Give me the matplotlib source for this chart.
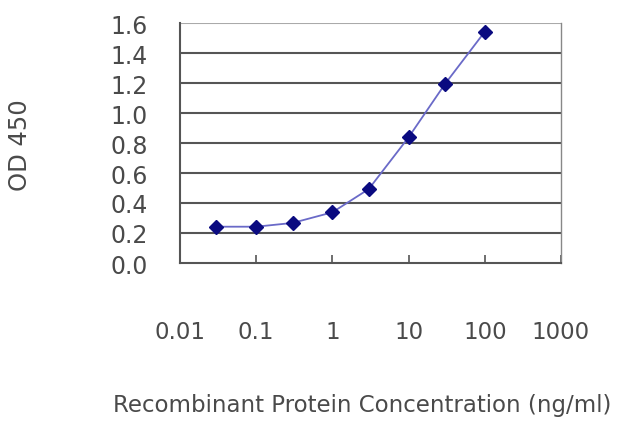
import matplotlib
matplotlib.use("Agg")
import matplotlib.pyplot as plt

concentration = [0.03, 0.1, 0.3, 1, 3, 10, 30, 100]
od450 = [0.242, 0.242, 0.267, 0.338, 0.493, 0.838, 1.193, 1.542]
x_ticks = [0.01, 0.1, 1, 10, 100, 1000]
x_tick_labels = ["0.01", "0.1", "1", "10", "100", "1000"]
y_ticks = [0.0, 0.2, 0.4, 0.6, 0.8, 1.0, 1.2, 1.4, 1.6]
y_tick_labels = ["0.0", "0.2", "0.4", "0.6", "0.8", "1.0", "1.2", "1.4", "1.6"]

text_color = "#4a4a4a"
plt.rcParams["font.family"] = ["DejaVu Sans"]

fig = plt.figure(figsize=(6.4, 4.27), dpi=100)
ax = fig.add_axes([180 / 640, 1 - 264 / 427, 381 / 640, 240 / 427])

ax.set_xscale("log")
ax.set_xlim(0.01, 1000)
ax.set_ylim(0, 1.6)

for yv in y_ticks[1:]:
    ax.axhline(yv, color="#555555" if yv < 1.6 else "#aaaaaa", lw=1.5, zorder=1)

ax.plot(concentration, od450, color="#6a6ac8", lw=1.3, zorder=2)
ax.plot(concentration, od450, linestyle="none", marker="D", markersize=7,
        color="#0a0a80", zorder=3)

ax.set_xticks(x_ticks)
ax.set_xticklabels(x_tick_labels)
ax.minorticks_off()
ax.set_yticks(y_ticks)
ax.set_yticklabels(y_tick_labels)

ax.tick_params(axis="x", direction="in", length=6, width=1.2, color="#555555",
               pad=41, labelsize=16.5, labelcolor=text_color)
ax.tick_params(axis="y", direction="in", length=0, pad=23, labelsize=17,
               labelcolor=text_color)

for side in ["left", "bottom", "right"]:
    ax.spines[side].set_color("#555555")
    ax.spines[side].set_linewidth(1.5)
ax.spines["top"].set_visible(False)
ax.spines["right"].set_color("#888888")
ax.spines["right"].set_linewidth(1.0)

fig.text(20 / 640, 1 - 145 / 427, "OD 450", rotation=90, ha="center", va="center",
         fontsize=17.5, color=text_color)
fig.text(362 / 640, 1 - 406 / 427, "Recombinant Protein Concentration (ng/ml)",
         ha="center", va="center", fontsize=16.5, color=text_color)

fig.savefig("out.png", dpi=100, facecolor="white")
